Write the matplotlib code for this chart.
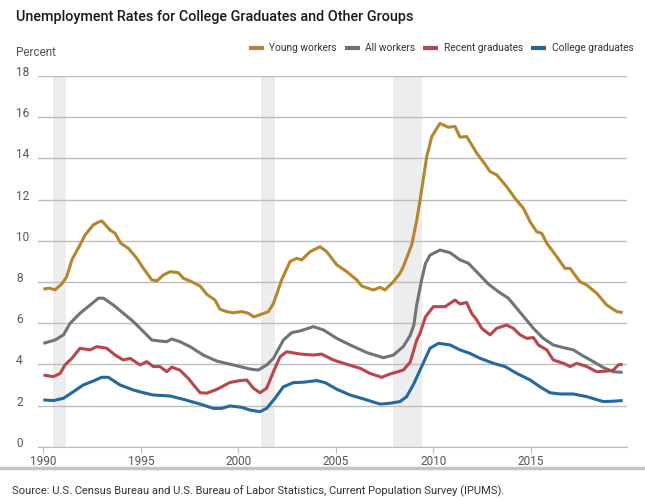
import matplotlib
matplotlib.use("Agg")
import matplotlib.pyplot as plt
from matplotlib.lines import Line2D
from matplotlib.transforms import ScaledTranslation

plt.rcParams['font.family'] = ['Roboto', 'DejaVu Sans']

# values (percent)
young_years = [1990.0, 1990.3, 1990.6, 1990.94, 1991.2, 1991.46, 1991.88, 1992.14, 1992.56, 1992.8,
               1993.0, 1993.42, 1993.68, 1993.97, 1994.36, 1994.79, 1995.13, 1995.56, 1995.82, 1996.16,
               1996.5, 1996.92, 1997.18, 1997.6, 1998.04, 1998.38, 1998.8, 1999.06, 1999.4, 1999.74,
               2000.17, 2000.51, 2000.8, 2001.2, 2001.54, 2001.8, 2002.22, 2002.65, 2002.99, 2003.25,
               2003.68, 2004.19, 2004.53, 2005.05, 2005.56, 2006.07, 2006.33, 2006.92, 2007.27, 2007.52,
               2007.95, 2008.29, 2008.46, 2008.89, 2009.15, 2009.32, 2009.66, 2009.92, 2010.34, 2010.77,
               2011.11, 2011.37, 2011.71, 2012.23, 2012.56, 2012.91, 2013.25, 2013.76, 2014.19, 2014.62,
               2014.96, 2015.3, 2015.56, 2015.82, 2016.33, 2016.75, 2017.01, 2017.52, 2017.87, 2018.38,
               2018.89, 2019.15, 2019.41, 2019.71]
young_rate = [7.65, 7.70, 7.62, 7.9, 8.26, 9.07, 9.8, 10.28, 10.77, 10.9,
              10.96, 10.52, 10.36, 9.88, 9.63, 9.15, 8.66, 8.1, 8.05, 8.34,
              8.5, 8.45, 8.18, 8.01, 7.8, 7.4, 7.12, 6.67, 6.56, 6.5,
              6.56, 6.48, 6.3, 6.44, 6.56, 6.96, 8.1, 8.99, 9.15, 9.07,
              9.47, 9.71, 9.47, 8.83, 8.5, 8.1, 7.8, 7.61, 7.74, 7.61,
              8.01, 8.42, 8.74, 9.8, 11.0, 11.98, 14.08, 15.06, 15.7, 15.51,
              15.55, 15.03, 15.06, 14.25, 13.84, 13.36, 13.2, 12.63, 12.06, 11.58,
              10.93, 10.44, 10.36, 9.88, 9.23, 8.66, 8.66, 8.01, 7.85, 7.45,
              6.88, 6.72, 6.56, 6.51]

all_years = [1990.0, 1990.6, 1991.03, 1991.37, 1991.88, 1992.4, 1992.82, 1993.08, 1993.59, 1994.1,
             1994.62, 1995.13, 1995.56, 1995.98, 1996.33, 1996.58, 1997.0, 1997.52, 1998.2, 1998.89,
             1999.74, 2000.6, 2001.02, 2001.45, 2001.8, 2002.31, 2002.74, 2003.16, 2003.85, 2004.36,
             2005.05, 2005.73, 2006.59, 2007.44, 2007.95, 2008.46, 2008.81, 2009.0, 2009.15, 2009.4,
             2009.6, 2009.83, 2010.34, 2010.86, 2011.37, 2011.79, 2012.3, 2012.82, 2013.33, 2013.85,
             2014.28, 2014.7, 2015.13, 2015.64, 2016.15, 2016.67, 2017.18, 2017.69, 2018.21, 2018.72,
             2019.23, 2019.71]
all_rate = [5.02, 5.18, 5.43, 5.99, 6.48, 6.88, 7.21, 7.21, 6.88, 6.48,
            6.07, 5.59, 5.18, 5.13, 5.1, 5.23, 5.1, 4.86, 4.45, 4.16,
            3.97, 3.77, 3.72, 3.97, 4.29, 5.18, 5.54, 5.62, 5.83, 5.67,
            5.26, 4.94, 4.57, 4.32, 4.45, 4.86, 5.4, 5.9, 6.9, 8.1,
            8.9, 9.3, 9.55, 9.42, 9.07, 8.91, 8.42, 7.9, 7.53, 7.21,
            6.72, 6.24, 5.75, 5.26, 4.94, 4.81, 4.70, 4.40, 4.13, 3.84,
            3.64, 3.61]

recent_years = [1990.0, 1990.51, 1990.86, 1991.11, 1991.46, 1991.88, 1992.39, 1992.74, 1993.25, 1993.68,
                1994.1, 1994.45, 1994.96, 1995.3, 1995.64, 1995.98, 1996.33, 1996.58, 1997.0, 1997.43,
                1997.78, 1998.04, 1998.38, 1998.89, 1999.23, 1999.57, 2000.09, 2000.43, 2000.77, 2001.11,
                2001.45, 2001.8, 2002.14, 2002.48, 2003.16, 2003.85, 2004.26, 2004.87, 2005.56, 2006.24,
                2006.75, 2007.35, 2007.78, 2008.46, 2008.81, 2009.15, 2009.32, 2009.6, 2010.0, 2010.6,
                2011.11, 2011.37, 2011.71, 2011.96, 2012.23, 2012.48, 2012.91, 2013.25, 2013.76, 2014.1,
                2014.45, 2014.79, 2015.13, 2015.39, 2015.82, 2016.15, 2016.67, 2017.01, 2017.36, 2017.87,
                2018.38, 2018.89, 2019.23, 2019.49, 2019.71]
recent_rate = [3.48, 3.40, 3.56, 3.97, 4.29, 4.78, 4.70, 4.86, 4.78, 4.45,
               4.21, 4.29, 3.97, 4.13, 3.89, 3.89, 3.64, 3.86, 3.72, 3.32,
               2.91, 2.62, 2.6, 2.78, 2.95, 3.12, 3.21, 3.24, 2.84, 2.62,
               2.84, 3.64, 4.37, 4.61, 4.5, 4.45, 4.5, 4.21, 4.0, 3.81,
               3.56, 3.37, 3.53, 3.72, 4.1, 5.18, 5.51, 6.31, 6.8, 6.8,
               7.12, 6.93, 7.0, 6.48, 6.15, 5.75, 5.43, 5.75, 5.91, 5.75,
               5.43, 5.26, 5.3, 4.94, 4.70, 4.21, 4.05, 3.89, 4.05, 3.89,
               3.64, 3.67, 3.72, 3.97, 4.0]

college_years = [1990.0, 1990.51, 1991.03, 1991.54, 1992.05, 1992.56, 1992.99, 1993.33, 1993.93, 1994.62,
                 1995.13, 1995.64, 1996.5, 1997.18, 1998.04, 1998.72, 1999.15, 1999.57, 2000.17, 2000.6,
                 2001.11, 2001.45, 2001.88, 2002.31, 2002.82, 2003.33, 2004.02, 2004.45, 2005.05, 2005.73,
                 2006.41, 2007.27, 2007.78, 2008.29, 2008.63, 2008.97, 2009.32, 2009.83, 2010.26, 2010.86,
                 2011.37, 2011.88, 2012.4, 2013.08, 2013.68, 2014.28, 2014.96, 2015.47, 2015.98, 2016.5,
                 2017.18, 2017.87, 2018.72, 2019.23, 2019.71]
college_rate = [2.27, 2.24, 2.35, 2.67, 3.0, 3.19, 3.37, 3.37, 3.0, 2.75,
                2.62, 2.51, 2.46, 2.3, 2.07, 1.86, 1.86, 1.98, 1.91, 1.78,
                1.70, 1.86, 2.35, 2.91, 3.11, 3.13, 3.21, 3.11, 2.79, 2.51,
                2.32, 2.07, 2.11, 2.19, 2.43, 3.0, 3.72, 4.78, 5.02, 4.94,
                4.70, 4.53, 4.29, 4.05, 3.89, 3.56, 3.24, 2.91, 2.62, 2.56,
                2.56, 2.43, 2.19, 2.21, 2.24]

recessions = [(1990.51, 1991.15), (2001.16, 2001.86), (2007.93, 2009.42)]

series = [
    ("Young workers", young_years, young_rate, "#b5862c"),
    ("All workers", all_years, all_rate, "#6c757b"),
    ("Recent graduates", recent_years, recent_rate, "#b8464a"),
    ("College graduates", college_years, college_rate, "#23699d"),
]

fig = plt.figure(figsize=(6.45, 5.01), dpi=100)
ax = fig.add_axes([0.0594, 0.1084, 0.9132, 0.7399])

for start, end in recessions:
    ax.axvspan(start, end, color="#ededed", lw=0, zorder=0)

for label, xs, ys, color in series:
    ax.plot(xs, ys, color=color, lw=2.2, label=label, zorder=3,
            solid_joinstyle="round", solid_capstyle="butt")

ax.set_xlim(1989.74, 2019.95)
ax.set_ylim(0, 18)
ax.set_yticks(range(0, 19, 2))
ax.yaxis.grid(True, color="#bdbdbd", lw=1)
ax.set_axisbelow(True)
for side in ["top", "right", "left"]:
    ax.spines[side].set_visible(False)
ax.spines["bottom"].set_color("#bdbdbd")

ax.tick_params(axis="y", length=0, pad=16, labelsize=8.5, labelcolor="#555555")
for lab in ax.get_yticklabels():
    lab.set_horizontalalignment("left")
    lab.set_transform(lab.get_transform() + ScaledTranslation(0, 5 / 100, fig.dpi_scale_trans))

ax.set_xticks(range(1990, 2020, 5))
ax.tick_params(axis="x", length=4, color="#bdbdbd", pad=2, labelsize=8.5, labelcolor="#555555")

ax.legend(loc="lower right", bbox_to_anchor=(1.017, 1.05), ncol=4, frameon=False,
          fontsize=7.3, handlelength=1.5, handletextpad=0.55, columnspacing=0.75,
          borderaxespad=0, labelcolor="#333333")
for h in ax.get_legend().get_lines():
    h.set_linewidth(3)

fig.text(16 / 645, 1 - 17 / 501, "Unemployment Rates for College Graduates and Other Groups",
         fontsize=10.4, color="#1a1a1a", va="center", ha="left", weight="medium")
fig.text(16 / 645, 1 - 52 / 501, "Percent", fontsize=8.5, color="#555555", va="center", ha="left")
fig.add_artist(Line2D([0, 1], [1 - 467.5 / 501] * 2, color="#c4c4c4", lw=2.5,
                      transform=fig.transFigure))
fig.text(12 / 645, 1 - 491 / 501,
         "Source: U.S. Census Bureau and U.S. Bureau of Labor Statistics, Current Population Survey (IPUMS).",
         fontsize=8, color="#333333", va="center", ha="left")

fig.savefig("out.png", dpi=100)
